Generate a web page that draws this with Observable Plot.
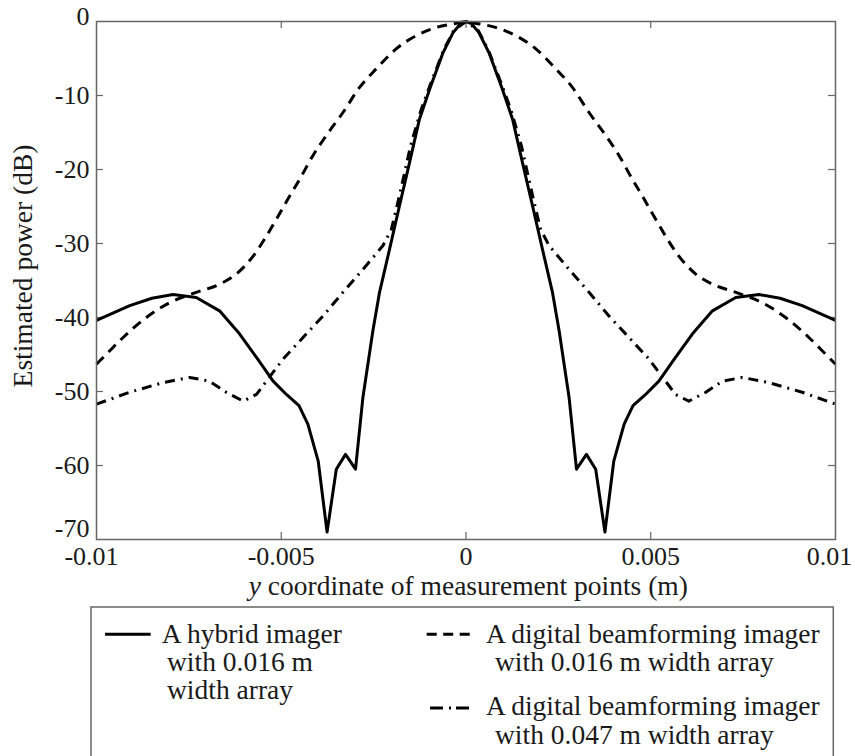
<!DOCTYPE html>
<html>
<head>
<meta charset="utf-8">
<script src="https://cdn.jsdelivr.net/npm/d3@7"></script>
<script src="https://cdn.jsdelivr.net/npm/@observablehq/plot@0.6"></script>
<style>
  html, body { margin: 0; padding: 0; background: #fff; }
  #chart svg { display: block; }
  #chart text, #chart tspan { font-family: 'Liberation Serif', 'Times New Roman', Times, serif !important; }
</style>
</head>
<body>
<div id="chart"></div>
<script>
// ---- Axis ticks ----
const xTicks = [-0.01, -0.005, 0, 0.005, 0.01];
const xTickLabels = ["-0.01", "-0.005", "0", "0.005", "0.01"];
const yTicks = [0, -10, -20, -30, -40, -50, -60, -70];
const yTickLabels = ["0", "-10", "-20", "-30", "-40", "-50", "-60", "-70"];

// ---- Series: hybrid imager, 0.016 m ----
const hybridX = [-0.01, -0.0091, -0.0085, -0.00793, -0.0073, -0.00667, -0.00613, -0.00567, -0.00522, -0.00486, -0.00452, -0.00428, -0.004, -0.00376, -0.00351, -0.00326, -0.00299, -0.00279, -0.00252, -0.00234, -0.00207, -0.0018, -0.00153, -0.00126, -0.00098, -0.00062, -0.00035, -0.00015, 0,
  0.00015, 0.00035, 0.00062, 0.00098, 0.00126, 0.00153, 0.0018, 0.00207, 0.00234, 0.00252, 0.00279, 0.00299, 0.00326, 0.00351, 0.00376, 0.004, 0.00428, 0.00452, 0.00486, 0.00522, 0.00567, 0.00613, 0.00667, 0.0073, 0.00793, 0.0085, 0.0091, 0.01];
const hybridDb = [-40.4, -38.4, -37.4, -36.9, -37.3, -39.1, -42.2, -45.4, -48.6, -50.4, -51.9, -54.4, -59.4, -69.0, -60.5, -58.5, -60.5, -50.8, -41.8, -36.6, -30.8, -24.9, -19.1, -13.2, -9.1, -4.2, -1.5, -0.3, 0,
  -0.3, -1.5, -4.2, -9.1, -13.2, -19.1, -24.9, -30.8, -36.6, -41.8, -50.8, -60.5, -58.5, -60.5, -69.0, -59.4, -54.4, -51.9, -50.4, -48.6, -45.4, -42.2, -39.1, -37.3, -36.9, -37.4, -38.4, -40.4];

// ---- Series: digital beamforming imager, 0.016 m ----
const dbf016X = [-0.01, -0.00982, -0.00928, -0.00865, -0.00802, -0.0073, -0.00667, -0.00621, -0.00576, -0.00545, -0.00513, -0.00482, -0.0045, -0.00414, -0.00378, -0.00333, -0.00288, -0.00243, -0.00189, -0.00134, -0.0008, -0.00022, 0,
  0.00022, 0.0008, 0.00134, 0.00189, 0.00243, 0.00288, 0.00333, 0.00378, 0.00414, 0.0045, 0.00482, 0.00513, 0.00545, 0.00576, 0.00621, 0.00667, 0.0073, 0.00802, 0.00865, 0.00928, 0.00982, 0.01];
const dbf016Db = [-46.3, -45.4, -42.7, -40.0, -38.0, -36.6, -35.5, -34.1, -31.7, -29.4, -26.7, -24.0, -21.3, -18.1, -15.4, -12.3, -8.9, -6.4, -3.7, -1.9, -0.8, -0.2, 0,
  -0.2, -0.8, -1.9, -3.7, -6.4, -8.9, -12.3, -15.4, -18.1, -21.3, -24.0, -26.7, -29.4, -31.7, -34.1, -35.5, -36.6, -38.0, -40.0, -42.7, -45.4, -46.3];

// ---- Series: digital beamforming imager, 0.047 m ----
const dbf047X = [-0.01, -0.0091, -0.0082, -0.00748, -0.00694, -0.00649, -0.00603, -0.00567, -0.0054, -0.00495, -0.00441, -0.00387, -0.00333, -0.00279, -0.00225, -0.00202, -0.0018, -0.0015, -0.00122, -0.00095, -0.0006, -0.00033, 0,
  0.00033, 0.0006, 0.00095, 0.00122, 0.0015, 0.0018, 0.00202, 0.00225, 0.00279, 0.00333, 0.00387, 0.00441, 0.00495, 0.0054, 0.00567, 0.00603, 0.00649, 0.00694, 0.00748, 0.0082, 0.0091, 0.01];
const dbf047Db = [-51.7, -50.1, -48.8, -48.1, -48.6, -50.1, -51.3, -50.4, -48.6, -45.6, -42.7, -39.8, -36.6, -33.5, -30.3, -28.1, -23.5, -16.8, -12.0, -8.3, -3.8, -1.2, 0,
  -1.2, -3.8, -8.3, -12.0, -16.8, -23.5, -28.1, -30.3, -33.5, -36.6, -39.8, -42.7, -45.6, -48.6, -50.4, -51.3, -50.1, -48.6, -48.1, -48.8, -50.1, -51.7];

// ---- Legend texts ----
const legendLines = [
  ["A hybrid imager", "with 0.016 m", "width array"],
  ["A digital beamforming imager", "with 0.016 m width array"],
  ["A digital beamforming imager", "with 0.047 m width array"]
];

const toRows = (xs, ys) => xs.map((x, i) => ({x, db: ys[i]}));
const hybrid = toRows(hybridX, hybridDb);
const dbf016 = toRows(dbf016X, dbf016Db);
const dbf047 = toRows(dbf047X, dbf047Db);

const W = 855, H = 604;
const mL = 96, mR = 20, mT = 21, mB = 65;
const plotW = W - mL - mR, plotH = H - mT - mB;
const font = "'Liberation Serif', 'Times New Roman', Times, serif";
const ink = "#1a1a1a";
const frameCol = "#666";

const fmtX = d => xTickLabels[xTicks.indexOf(d)];
const fmtY = d => yTickLabels[yTicks.indexOf(d)];
const innerX = xTicks.slice(1, -1);
const innerY = yTicks.slice(1, -1);

const lineStyle = {x: "x", y: "db", stroke: "black", strokeWidth: 3, strokeLinecap: "butt", strokeLinejoin: "round"};
const axOpts = {tickSize: 0, label: null};

const chart = Plot.plot({
  width: W, height: H,
  marginLeft: mL, marginRight: mR, marginTop: mT, marginBottom: mB,
  style: {fontFamily: font, fontSize: "26px", color: ink, background: "white"},
  x: {domain: [-0.01, 0.01], label: null},
  y: {domain: [-70, 0], label: null},
  marks: [
    // tick labels
    Plot.axisX(innerX, {...axOpts, tickPadding: 7, tickFormat: fmtX}),
    Plot.axisX([xTicks[0]], {...axOpts, tickPadding: 7, tickFormat: fmtX, dx: -5}),
    Plot.axisX([xTicks[xTicks.length - 1]], {...axOpts, tickPadding: 7, tickFormat: fmtX, dx: -6}),
    Plot.axisY(innerY, {...axOpts, tickPadding: 7, tickFormat: fmtY}),
    Plot.axisY([yTicks[0]], {...axOpts, tickPadding: 7, tickFormat: fmtY, dy: -5}),
    Plot.axisY([yTicks[yTicks.length - 1]], {...axOpts, tickPadding: 7, tickFormat: fmtY, dy: -11}),
    // inward tick marks
    Plot.tickX(innerX, {x: d => d, insetTop: plotH - 7, stroke: frameCol, strokeWidth: 1.2}),
    Plot.tickX(innerX, {x: d => d, insetBottom: plotH - 7, stroke: frameCol, strokeWidth: 1.2}),
    Plot.tickY(innerY, {y: d => d, insetRight: plotW - 7, stroke: frameCol, strokeWidth: 1.2}),
    Plot.tickY(innerY, {y: d => d, insetLeft: plotW - 7, stroke: frameCol, strokeWidth: 1.2}),
    // curves
    Plot.line(dbf016, {...lineStyle, strokeDasharray: "10,7", curve: "monotone-x"}),
    Plot.line(dbf047, {...lineStyle, strokeDasharray: "10,6,2,6"}),
    Plot.line(hybrid, {...lineStyle}),
    Plot.frame({stroke: frameCol, strokeWidth: 1.5})
  ]
});

// axis titles
const s = d3.select(chart);
s.append("text")
  .attr("transform", "translate(31.5,266) rotate(-90)")
  .attr("text-anchor", "middle")
  .attr("font-size", 27.5)
  .attr("fill", ink)
  .text("Estimated power (dB)");
const xl = s.append("text")
  .attr("x", 468.3).attr("y", 595)
  .attr("text-anchor", "middle")
  .attr("font-size", 27.5)
  .attr("fill", ink);
xl.append("tspan").attr("font-style", "italic").text("y");
xl.append("tspan").text(" coordinate of measurement points (m)");

document.getElementById("chart").appendChild(chart);

// legend (below the plot svg)
const LH = 756 - H;
const leg = d3.select("#chart").append("svg")
  .attr("width", W).attr("height", LH)
  .style("display", "block")
  .style("font-family", font)
  .style("font-size", "27.5px");
leg.append("rect")
  .attr("x", 91).attr("y", 3).attr("width", 742.3).attr("height", 300)
  .attr("fill", "white").attr("stroke", frameCol).attr("stroke-width", 1.5);

const entries = [
  {x1: 105, x2: 150.7, y: 30.3, dash: null, tx: [161.7, 167, 167], ty: [38.7, 67, 95.3]},
  {x1: 426.7, x2: 474, y: 30.3, dash: "10,6.5", tx: [486, 495], ty: [38.7, 67]},
  {x1: 430, x2: 470, y: 104, dash: "13,6,2,5", tx: [486, 495], ty: [111, 139.5]}
];
entries.forEach((e, i) => {
  const ln = leg.append("line")
    .attr("x1", e.x1).attr("x2", e.x2).attr("y1", e.y).attr("y2", e.y)
    .attr("stroke", "black").attr("stroke-width", 3);
  if (e.dash) ln.attr("stroke-dasharray", e.dash);
  legendLines[i].forEach((t, j) => {
    leg.append("text").attr("x", e.tx[j]).attr("y", e.ty[j]).attr("fill", ink).text(t);
  });
});
</script>
</body>
</html>
